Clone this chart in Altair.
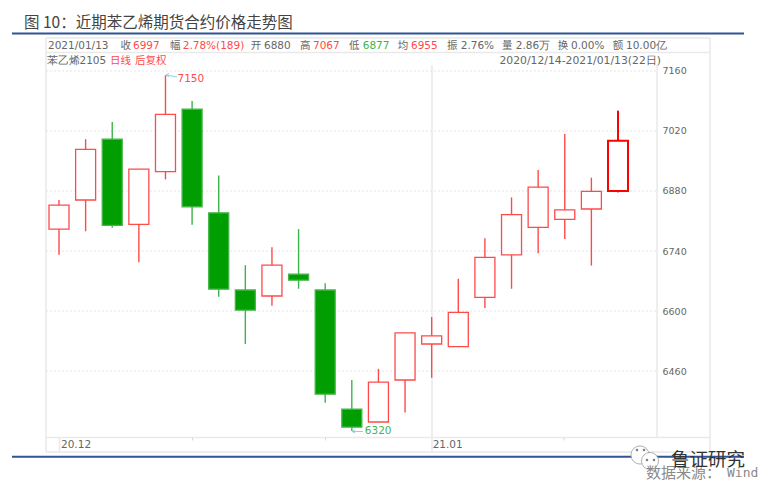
import altair as alt
import pandas as pd

dates = ["2020-12-14","2020-12-15","2020-12-16","2020-12-17","2020-12-18",
         "2020-12-21","2020-12-22","2020-12-23","2020-12-24","2020-12-25",
         "2020-12-28","2020-12-29","2020-12-30","2020-12-31",
         "2021-01-04","2021-01-05","2021-01-06","2021-01-07","2021-01-08",
         "2021-01-11","2021-01-12","2021-01-13"]
opens  = [6791,6859,7001,6802,6925,7071,6829,6649,6635,6686,6649,6371,6341,6439,6523,6517,6632,6731,6795,6814,6838,6880]
closes = [6847,6977,6800,6931,7059,6843,6651,6602,6707,6672,6406,6329,6434,6549,6542,6597,6725,6825,6889,6836,6879,6997]
highs  = [6859,7001,7041,6931,7150,7090,6916,6707,6749,6791,6665,6439,6465,6549,6586,6675,6770,6865,6929,7013,6911,7067]
lows   = [6731,6786,6794,6714,6907,6801,6633,6523,6612,6652,6386,6320,6341,6363,6444,6517,6607,6652,6735,6768,6706,6877]
y_ticks = [6460,6600,6740,6880,7020,7160]

df = pd.DataFrame({"date":dates,"open":opens,"close":closes,"high":highs,"low":lows})
df["dir"] = ["up" if c>=o else "down" for o,c in zip(opens,closes)]
tick_df = pd.DataFrame({"tick":y_ticks})

X0, Y0, W, H = 46, 55, 611, 383
RED, GREEN, GREY = "#ff4a4a", "#009e00", "#666666"
EDGE = "#e9e9e9"
FONT = "DejaVu Sans"
CJK = "Noto Sans CJK SC"

x_scale = alt.Scale(type="point", domain=dates, range=[13, 572], padding=0)
y_scale = alt.Scale(domain=[6303.7, 7197.3], nice=False, zero=False)
X = alt.X("date:N", scale=x_scale, axis=None)
one = alt.Data(values=[{}])

def text(s, x, y, color=GREY, size=10.5, font=FONT, align="left", **kw):
    return alt.Chart(one).mark_text(text=s, color=color, fontSize=size, font=font, align=align, baseline="middle", **kw).encode(
        x=alt.value(x-X0), y=alt.value(y-Y0))

def line(x1, y1, x2, y2, color=EDGE, w=1.5, **kw):
    return alt.Chart(one).mark_rule(color=color, strokeWidth=w, **kw).encode(
        x=alt.value(x1-X0), x2=alt.value(x2-X0), y=alt.value(y1-Y0), y2=alt.value(y2-Y0))

frame = [line(*a) for a in [
    (46,38,710,38),(46,52.5,710,52.5),(46,38,46,452),(710,38,710,452),
    (46,437.5,710,437.5),(46,452,710,452),(657,65,657,437.5),(59.5,437.5,59.5,452),
    (432,65,432,452)]]
frame += [line(x,437.5,x,440.5,"#d8d8d8",1) for x in (192.5,325.5,564)]

grid = alt.Chart(tick_df).mark_rule(color="#e4e4e4", strokeWidth=1, strokeDash=[2,2]).encode(
    y=alt.Y("tick:Q", scale=y_scale, title=None,
            axis=alt.Axis(orient="right", values=y_ticks, domain=False, ticks=False, labelPadding=5,
                          labelColor=GREY, labelFont=FONT, labelFontSize=9.5, format="d", grid=False)),
    x=alt.value(0), x2=alt.value(W))

base = alt.Chart(df).encode(x=X)
wick_scale = alt.Scale(domain=["up","down"], range=[RED,"#3cb44a"])
wicks = base.mark_rule(strokeWidth=1.4).encode(
    y=alt.Y("low:Q", scale=y_scale, title=None),
    y2="high:Q",
    color=alt.Color("dir:N", scale=wick_scale, legend=None))
bodies = base.transform_filter("datum.date != '2021-01-13'").mark_bar(size=20, strokeWidth=1.3).encode(
    y=alt.Y("open:Q", scale=y_scale, title=None), y2="close:Q",
    fill=alt.Fill("dir:N", scale=alt.Scale(domain=["up","down"], range=["#ffffff",GREEN]), legend=None),
    stroke=alt.Stroke("dir:N", scale=alt.Scale(domain=["up","down"], range=[RED,"#45b54a"]), legend=None))
last = base.transform_filter("datum.date == '2021-01-13'")
last_wick = last.mark_rule(strokeWidth=2, color="#ff0000").encode(y=alt.Y("low:Q", scale=y_scale, title=None), y2="high:Q")
last_body = last.mark_bar(size=20, strokeWidth=2, fill="#ffffff", stroke="#ff0000").encode(
    y=alt.Y("open:Q", scale=y_scale, title=None), y2="close:Q")

hi_label = base.transform_filter("datum.high == 7150").mark_text(align="left", baseline="middle", dx=12, dy=4, color=RED, font=FONT, fontSize=10.5).encode(
    y=alt.Y("high:Q", scale=y_scale, title=None), text=alt.Text("high:Q", format="d"))
lo_label = base.transform_filter("datum.low == 6320").mark_text(align="left", baseline="middle", dx=13, dy=0, color="#4cb050", font=FONT, fontSize=10.5).encode(
    y=alt.Y("low:Q", scale=y_scale, title=None), text=alt.Text("low:Q", format="d"))
ARROW = "#8fd0e8"
arrows = [line(166,75,177,77,ARROW,1), line(166,75,169,73.5,ARROW,1), line(166,75,169,77,ARROW,1),
          line(352,431.5,363,431.5,ARROW,1), line(352,431.5,355,430,ARROW,1), line(352,431.5,355,433,ARROW,1)]

month_lab = [
    alt.Chart(df).transform_filter(f"datum.date == '{d}'").mark_text(
        text=t, align="left", baseline="middle", dx=dx, color=GREY, font=FONT, fontSize=10.5
    ).encode(x=X, y=alt.value(445-Y0))
    for d,t,dx in [("2020-12-14","20.12",2),("2021-01-04","21.01",1)]]

header = [
    text("2021/01/13",48,46),text("收",120.5,46,font=CJK),text("6997",133,46,RED),
    text("幅",170,46,font=CJK),text("2.78%(189)",182.7,46,RED),
    text("开",250.7,46,font=CJK),text("6880",264,46),
    text("高",300,46,font=CJK),text("7067",313,46,RED),
    text("低",349,46,font=CJK),text("6877",362.7,46,"#3cb44a"),
    text("均",397.7,46,font=CJK),text("6955",411,46,RED),
    text("振",447,46,font=CJK),text("2.76%",460.7,46),
    text("量",502,46,font=CJK),text("2.86万",515.7,46),
    text("换",557.7,46,font=CJK),text("0.00%",571,46),
    text("额",612.7,46,font=CJK),text("10.00亿",626,46),
    text("苯乙烯2105",46.5,61),text("日线",110,61,RED,font=CJK),text("后复权",135,61,RED,font=CJK),
    text("2020/12/14-2021/01/13(22日)",661,61,size=10.8,align="right"),
]

rules = [line(12,33.5,744,33.5,"#2f5597",2), line(12,456.7,744,456.7,"#2f5597",2)]
title = [text("图 10：近期苯乙烯期货合约价格走势图",24,23,"#444444",15.5,CJK)]

def dot(x,y,size,fill="#ffffff",stroke="#9a9a9a"):
    return alt.Chart(one).mark_point(shape="circle",filled=False,fill=fill,fillOpacity=1,stroke=stroke,strokeWidth=0.8,size=size).encode(
        x=alt.value(x-X0),y=alt.value(y-Y0))
mark = [dot(640,455,330), dot(650,461,290),
        dot(637,450,3,"#666666","#666666"), dot(644,450,3,"#666666","#666666"),
        dot(647,460,3,"#666666","#666666"), dot(654,460,3,"#666666","#666666")]
foot = [text("数据来源：",646,473,"#8a8a8a",15,CJK), text("Wind",727,473,"#8a8a8a",13,"DejaVu Sans Mono"),
        text("鲁证研究",671,459.5,"#333333",18.5,CJK)]

chart = alt.layer(
    *frame, grid, wicks, bodies, last_wick, last_body, hi_label, lo_label, *arrows, *month_lab,
    *header, *rules, *title, *mark, *foot
).resolve_scale(x="shared", y="shared").properties(
    width=W, height=H,
    padding={"left":X0-8,"top":Y0-8,"right":754-(X0-8)-W,"bottom":476-(Y0-8)-H},
    autosize=alt.AutoSizeParams(type="none"),
).configure_view(stroke=None)

chart.save("out.html", embed_options={"renderer":"svg","actions":False})
